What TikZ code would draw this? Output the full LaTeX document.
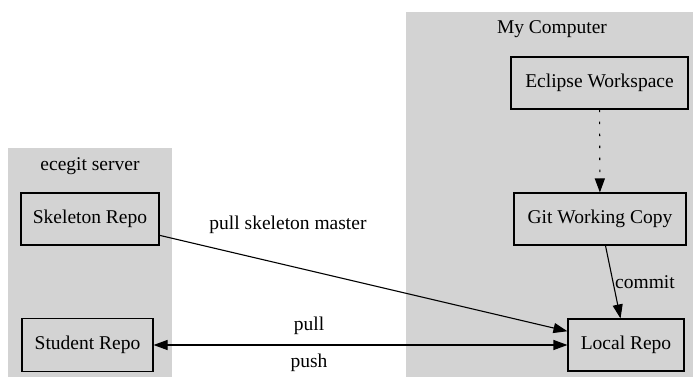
\documentclass[tikz,border=0pt]{standalone}
\usepackage{fontspec}
\setmainfont{Liberation Serif}
\usetikzlibrary{arrows.meta}
\definecolor{clustergray}{HTML}{D3D3D3}
\begin{document}
\begin{tikzpicture}[x=1pt,y=-1pt,
  every node/.style={font=\fontsize{19.5}{23}\selectfont},
  repobox/.style={draw=black, line width=1.1pt, fill=clustergray, minimum height=52pt, inner sep=0pt},
  cluster/.style={fill=clustergray, draw=none},
  edgeline/.style={line width=1.1pt, -{Triangle[length=14pt,width=10pt]}},
  lbl/.style={inner sep=0pt}
]
\useasboundingbox (0,0) rectangle (693,377);
% clusters
\fill[cluster] (8,148) rectangle (172,377);
\fill[cluster] (406,12) rectangle (693,377);
\node[lbl] (servertitle) at (90,166) {ecegit server};
\node[lbl] (comptitle) at (552,29) {My Computer};
% nodes
\node[repobox, minimum width=138pt] (skel) at (90,219) {Skeleton Repo};
\node[repobox, minimum width=131pt, minimum height=53pt] (student) at (87.5,345) {Student Repo};
\node[repobox, minimum width=177pt] (eclipse) at (599.5,83) {Eclipse Workspace};
\node[repobox, minimum width=172pt] (git) at (600,219) {Git Working Copy};
\node[repobox, minimum width=116pt] (local) at (626,345) {Local Repo};
% edges
\draw[edgeline, dash pattern=on 2.5pt off 9.5pt] (eclipse) -- (git);
\draw[edgeline] (git) -- (local);
\draw[edgeline] (skel) -- (local);
\draw[line width=1.1pt, {Triangle[length=14pt,width=10pt]}-{Triangle[length=14pt,width=10pt]}] (student) -- (local);
% labels
\node[lbl] (lcommit) at (645,282) {commit};
\node[lbl] (lskel) at (288,225) {pull skeleton master};
\node[lbl] (lpull) at (309,326) {pull};
\node[lbl] (lpush) at (309,363) {push};
\end{tikzpicture}
\end{document}
